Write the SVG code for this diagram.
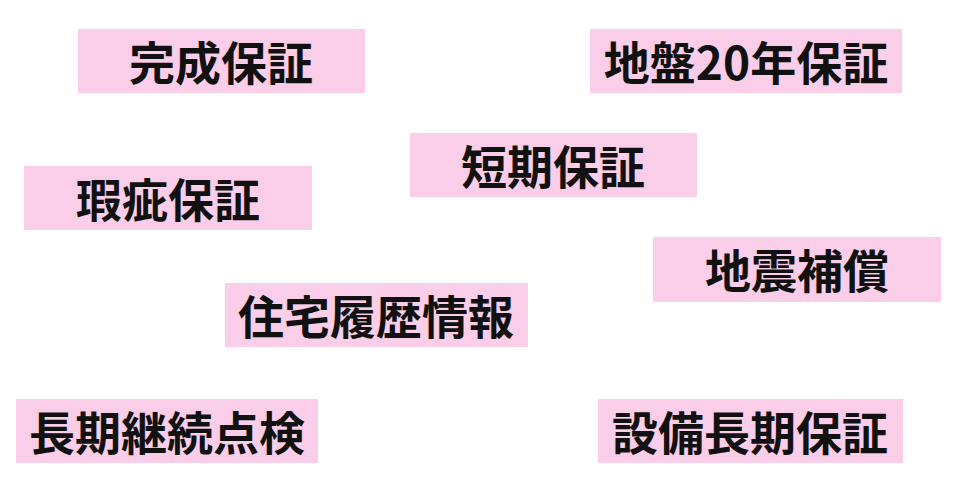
<svg xmlns="http://www.w3.org/2000/svg" width="960" height="503" viewBox="0 0 960 503">
<style>
.box{fill:#FACDE8}
.lbl{font-family:"Noto Sans CJK JP","Noto Sans",sans-serif;font-weight:700;font-size:46px;fill:#111;text-anchor:middle}
</style>
<rect width="960" height="503" fill="#FFFFFF"/>
<g id="connectors"></g>
<g id="n1"><rect class="box" x="78" y="29" width="287" height="64"/><text class="lbl" x="221" y="80">完成保証</text></g>
<g id="n2"><rect class="box" x="590" y="29" width="312" height="64"/><text class="lbl" x="746" y="80">地盤20年保証</text></g>
<g id="n3"><rect class="box" x="410" y="133" width="287" height="64"/><text class="lbl" x="553" y="184">短期保証</text></g>
<g id="n4"><rect class="box" x="24" y="166" width="288" height="64"/><text class="lbl" x="168" y="217">瑕疵保証</text></g>
<g id="n5"><rect class="box" x="653" y="237" width="288" height="65"/><text class="lbl" x="797" y="288">地震補償</text></g>
<g id="n6"><rect class="box" x="225" y="283" width="303" height="64"/><text class="lbl" x="376" y="334">住宅履歴情報</text></g>
<g id="n7"><rect class="box" x="16" y="399" width="302" height="64"/><text class="lbl" x="167" y="450">長期継続点検</text></g>
<g id="n8"><rect class="box" x="598" y="399" width="305" height="64"/><text class="lbl" x="750" y="450">設備長期保証</text></g>
</svg>
